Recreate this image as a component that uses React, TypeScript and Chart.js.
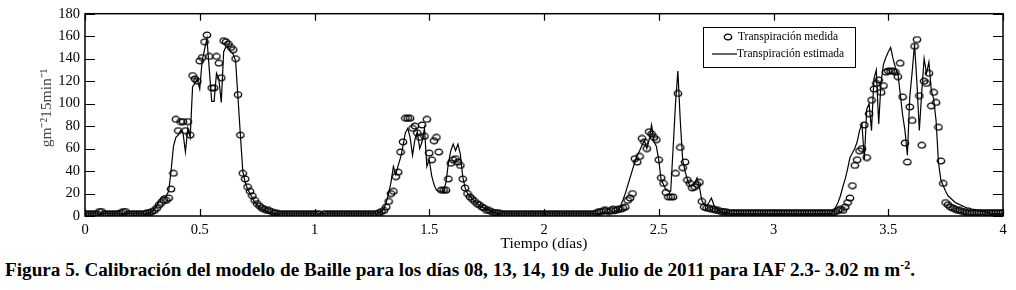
import React, { useEffect, useRef } from 'react';
import { Chart, registerables } from 'chart.js';

Chart.register(...registerables);

const SAMPLES_PER_DAY = 96;
const X_TICKS = [0, 0.5, 1, 1.5, 2, 2.5, 3, 3.5, 4];
const Y_TICKS = [0, 20, 40, 60, 80, 100, 120, 140, 160, 180];
const X_TITLE = 'Tiempo (días)';
const Y_TITLE = 'gm⁻²15min⁻¹';
const LEGEND_LABELS = ['Transpiración medida', 'Transpiración estimada'];

// Transpiración medida (15-min samples), day 1..4
const measuredDay1 = [
  2, 2, 2, 2, 2, 2, 4, 4, 2, 2,
  2, 2, 2, 2, 2, 3, 4, 4, 2, 2,
  2, 2, 2, 2, 2, 2, 3, 3, 4, 5,
  7, 10, 12, 14, 14, 16, 24, 38, 86, 76,
  84, 84, 76, 84, 72, 125, 122, 120, 138, 141,
  155, 161, 142, 114, 114, 142, 136, 123, 156, 155,
  153, 150, 148, 140, 108, 72, 38, 33, 26, 22,
  18, 14, 11, 9, 7, 6, 5, 5, 4, 3,
  3, 2, 2, 2, 2, 2, 2, 2, 2, 2,
  2, 2, 2, 2, 2, 2,
];
const measuredDay2 = [
  2, 2, 2, 0, 2, 2, 2, 2, 2, 2,
  2, 2, 2, 2, 2, 2, 2, 2, 2, 2,
  2, 2, 2, 2, 2, 2, 2, 3, 4, 5,
  8, 13, 20, 22, 35, 39, 57, 66, 87, 87,
  87, 78, 80, 74, 70, 81, 71, 86, 56, 50,
  67, 70, 57, 23, 23, 23, 33, 47, 50, 51,
  48, 45, 33, 25, 20, 17, 15, 13, 11, 10,
  8, 7, 5, 5, 4, 3, 3, 3, 2, 2,
  2, 2, 2, 2, 2, 2, 2, 2, 2, 2,
  2, 2, 2, 2, 2, 2,
];
const measuredDay3 = [
  2, 2, 2, 2, 2, 2, 2, 2, 2, 2,
  2, 2, 2, 2, 2, 2, 2, 2, 2, 2,
  2, 2, 3, 4, 4, 5, 5, 4, 5, 6,
  5, 6, 6, 7, 8, 14, 16, 20, 51, 48,
  53, 69, 66, 60, 75, 73, 70, 68, 50, 34,
  29, 21, 17, 17, 17, 38, 109, 61, 43, 48,
  32, 29, 25, 26, 28, 30, 13, 8, 7, 7,
  6, 6, 5, 5, 4, 4, 4, 3, 3, 3,
  3, 3, 3, 3, 3, 3, 3, 3, 3, 3,
  3, 3, 3, 3, 3, 3,
];
const measuredDay4 = [
  3, 3, 3, 3, 3, 3, 3, 3, 3, 3,
  3, 3, 3, 3, 3, 3, 3, 3, 3, 3,
  3, 3, 3, 3, 3, 3, 4, 5, 6, 5,
  8, 12, 16, 27, 45, 50, 58, 60, 81, 52,
  91, 103, 113, 118, 121, 110, 116, 128, 129, 129,
  129, 128, 124, 136, 106, 65, 48, 97, 85, 151,
  157, 107, 63, 120, 118, 127, 98, 110, 101, 79,
  49, 29, 12, 10, 8, 7, 6, 5, 5, 4,
  4, 3, 3, 3, 3, 3, 3, 3, 3, 3,
  3, 3, 3, 3, 3, 3, 3,
];

// Transpiración estimada (15-min samples), day 1..4
const estimatedDay1 = [
  2, 2, 2, 2, 2, 2, 2, 2, 2, 2,
  2, 2, 2, 2, 2, 2, 2, 2, 2, 2,
  2, 2, 2, 2, 2, 2, 2, 3, 4, 6,
  9, 14, 17, 18, 18, 22, 40, 62, 70, 72,
  76, 74, 57, 78, 70, 115, 118, 122, 113, 138,
  148, 158, 130, 102, 102, 127, 122, 101, 146, 151,
  150, 146, 144, 138, 105, 72, 40, 30, 24, 20,
  16, 12, 10, 8, 6, 5, 4, 3, 3, 2,
  2, 2, 2, 2, 2, 2, 2, 2, 2, 2,
  2, 2, 2, 2, 2, 2,
];
const estimatedDay2 = [
  2, 2, 2, 2, 2, 2, 2, 2, 2, 2,
  2, 2, 2, 2, 2, 2, 2, 2, 2, 2,
  2, 2, 2, 2, 2, 2, 2, 3, 4, 6,
  12, 20, 30, 44, 37, 45, 52, 62, 74, 78,
  70, 54, 68, 75, 60, 66, 78, 44, 50, 36,
  28, 23, 22, 22, 22, 30, 47, 58, 64, 58,
  64, 55, 35, 25, 20, 18, 15, 13, 11, 9,
  8, 7, 6, 5, 4, 3, 3, 2, 2, 2,
  2, 2, 2, 2, 2, 2, 2, 2, 2, 2,
  2, 2, 2, 2, 2, 2,
];
const estimatedDay3 = [
  2, 2, 2, 2, 2, 2, 2, 2, 2, 2,
  2, 2, 2, 2, 2, 2, 2, 2, 2, 2,
  2, 2, 2, 2, 2, 2, 2, 2, 2, 2,
  2, 5, 9, 14, 20, 27, 34, 41, 48, 54,
  58, 63, 67, 60, 68, 81, 66, 62, 50, 32,
  28, 23, 22, 22, 60, 100, 129, 85, 50, 40,
  32, 27, 27, 29, 34, 26, 14, 10, 9, 12,
  16, 10, 7, 5, 4, 3, 3, 3, 2, 2,
  2, 2, 2, 2, 2, 2, 2, 2, 2, 2,
  2, 2, 2, 2, 2, 2,
];
const estimatedDay4 = [
  2, 2, 2, 2, 2, 2, 2, 2, 2, 2,
  2, 2, 2, 2, 2, 2, 2, 2, 2, 2,
  2, 2, 2, 2, 2, 4, 8, 12, 18, 26,
  33, 42, 52, 56, 60, 66, 76, 82, 50, 95,
  100, 76, 122, 130, 82, 119, 135, 141, 146, 150,
  140, 132, 127, 109, 90, 76, 54, 106, 128, 153,
  118, 76, 110, 140, 127, 137, 112, 104, 85, 48,
  32, 27, 22, 18, 16, 14, 12, 11, 10, 9,
  8, 7, 7, 6, 6, 5, 5, 4, 4, 3,
  3, 2, 2, 2, 2, 2, 2,
];

const measuredDays = [measuredDay1, measuredDay2, measuredDay3, measuredDay4];
const estimatedDays = [estimatedDay1, estimatedDay2, estimatedDay3, estimatedDay4];

const toPoints = (days: number[][]) =>
  days.flatMap((arr, d) => arr.map((v, i) => ({ x: d + i / SAMPLES_PER_DAY, y: v })));

const SERIF = '"Liberation Serif", "Times New Roman", serif';

function makeEllipse(): HTMLCanvasElement {
  const c = document.createElement('canvas');
  c.width = 10;
  c.height = 8;
  const g = c.getContext('2d')!;
  g.strokeStyle = '#000';
  g.lineWidth = 1.3;
  g.beginPath();
  g.ellipse(5, 4, 3.7, 2.8, 0, 0, Math.PI * 2);
  g.stroke();
  return c;
}

export default function App() {
  const ref = useRef<HTMLCanvasElement | null>(null);

  useEffect(() => {
    if (!ref.current) return;
    const marker = makeEllipse();

    const framePlugin = {
      id: 'frameAndLegend',
      afterDraw(chart: any) {
        const { ctx, chartArea, scales } = chart;
        const { left, right, top, bottom } = chartArea;
        const xs = scales.x;
        const ys = scales.y;
        ctx.save();
        ctx.strokeStyle = '#000';
        ctx.lineWidth = 1.5;
        ctx.strokeRect(left, top, right - left, bottom - top);
        ctx.lineWidth = 1.2;
        ctx.beginPath();
        for (const v of X_TICKS) {
          const px = Math.round(xs.getPixelForValue(v)) + 0.5;
          ctx.moveTo(px, bottom);
          ctx.lineTo(px, bottom - 7);
          ctx.moveTo(px, top);
          ctx.lineTo(px, top + 7);
        }
        for (const v of Y_TICKS) {
          const py = Math.round(ys.getPixelForValue(v)) + 0.5;
          ctx.moveTo(left, py);
          ctx.lineTo(left + 10, py);
          ctx.moveTo(right, py);
          ctx.lineTo(right - 10, py);
        }
        ctx.stroke();

        // y-axis title
        ctx.save();
        ctx.translate(47, 108);
        ctx.rotate(-Math.PI / 2);
        ctx.fillStyle = '#444';
        ctx.font = `15.5px ${SERIF}`;
        ctx.textAlign = 'center';
        ctx.textBaseline = 'middle';
        ctx.fillText(Y_TITLE, 0, 0);
        ctx.restore();

        // legend box
        const bx = 703, by = 27, bw = 152, bh = 40;
        ctx.fillStyle = '#fff';
        ctx.fillRect(bx, by, bw, bh);
        ctx.lineWidth = 1;
        ctx.strokeRect(bx + 0.5, by + 0.5, bw, bh);
        ctx.drawImage(marker, 728 - marker.width / 2, 37 - marker.height / 2);
        ctx.beginPath();
        ctx.lineWidth = 1.2;
        ctx.moveTo(712, 54);
        ctx.lineTo(737, 54);
        ctx.stroke();
        ctx.fillStyle = '#000';
        ctx.font = `11.5px ${SERIF}`;
        ctx.textBaseline = 'middle';
        ctx.textAlign = 'left';
        ctx.fillText(LEGEND_LABELS[0], 738, 37);
        ctx.fillText(LEGEND_LABELS[1], 737, 54);
        ctx.restore();
      },
    };

    const chart = new Chart(ref.current, {
      type: 'scatter',
      data: {
        datasets: [
          {
            label: LEGEND_LABELS[0],
            data: toPoints(measuredDays),
            pointStyle: marker as any,
            pointRadius: 4,
            backgroundColor: 'rgba(0,0,0,0)',
            borderColor: '#000',
            showLine: false,
          },
          {
            label: LEGEND_LABELS[1],
            data: toPoints(estimatedDays),
            showLine: true,
            pointRadius: 0,
            borderColor: '#000',
            borderWidth: 1.2,
            tension: 0,
          } as any,
        ],
      },
      options: {
        responsive: false,
        animation: false,
        layout: { padding: { top: 13, right: 13, left: 0, bottom: 0 } },
        plugins: { legend: { display: false }, tooltip: { enabled: false } },
        scales: {
          x: {
            type: 'linear',
            min: 0,
            max: 4,
            afterBuildTicks: (s: any) => {
              s.ticks = X_TICKS.map((v) => ({ value: v }));
            },
            afterFit: (s: any) => {
              s.height = 37;
            },
            grid: { display: false, drawTicks: false },
            border: { display: false },
            ticks: {
              color: '#000',
              font: { family: SERIF, size: 14.5 },
              padding: 5,
              maxRotation: 0,
              autoSkip: false,
              callback: (v: any) => String(v),
            },
            title: {
              display: true,
              text: X_TITLE,
              color: '#000',
              font: { family: SERIF, size: 15.5 },
              padding: { top: 0, bottom: 0 },
            },
          },
          y: {
            type: 'linear',
            min: 0,
            max: 180,
            afterBuildTicks: (s: any) => {
              s.ticks = Y_TICKS.map((v) => ({ value: v }));
            },
            afterFit: (s: any) => {
              s.width = 85;
            },
            grid: { display: false, drawTicks: false },
            border: { display: false },
            ticks: {
              color: '#000',
              font: { family: SERIF, size: 14.5 },
              padding: 5,
              autoSkip: false,
              callback: (v: any) => String(v),
            },
            title: { display: false },
          },
        },
      },
      plugins: [framePlugin],
    } as any);

    return () => chart.destroy();
  }, []);

  return (
    <div style={{ position: 'absolute', left: 0, top: 0, width: 1016, height: 290, background: '#fff' }}>
      <canvas ref={ref} width={1016} height={253} style={{ position: 'absolute', left: 0, top: 0 }} />
      <div
        style={{
          position: 'absolute',
          left: 5,
          top: 259,
          fontFamily: SERIF,
          fontWeight: 'bold',
          fontSize: 19.2,
          whiteSpace: 'nowrap',
          color: '#000',
          lineHeight: '22px',
        }}
      >
        Figura 5. Calibración del modelo de Baille para los días 08, 13, 14, 19 de Julio de 2011 para IAF 2.3- 3.02 m m
        <sup style={{ fontSize: 12, verticalAlign: 7, lineHeight: 0 }}>-2</sup>.
      </div>
    </div>
  );
}
